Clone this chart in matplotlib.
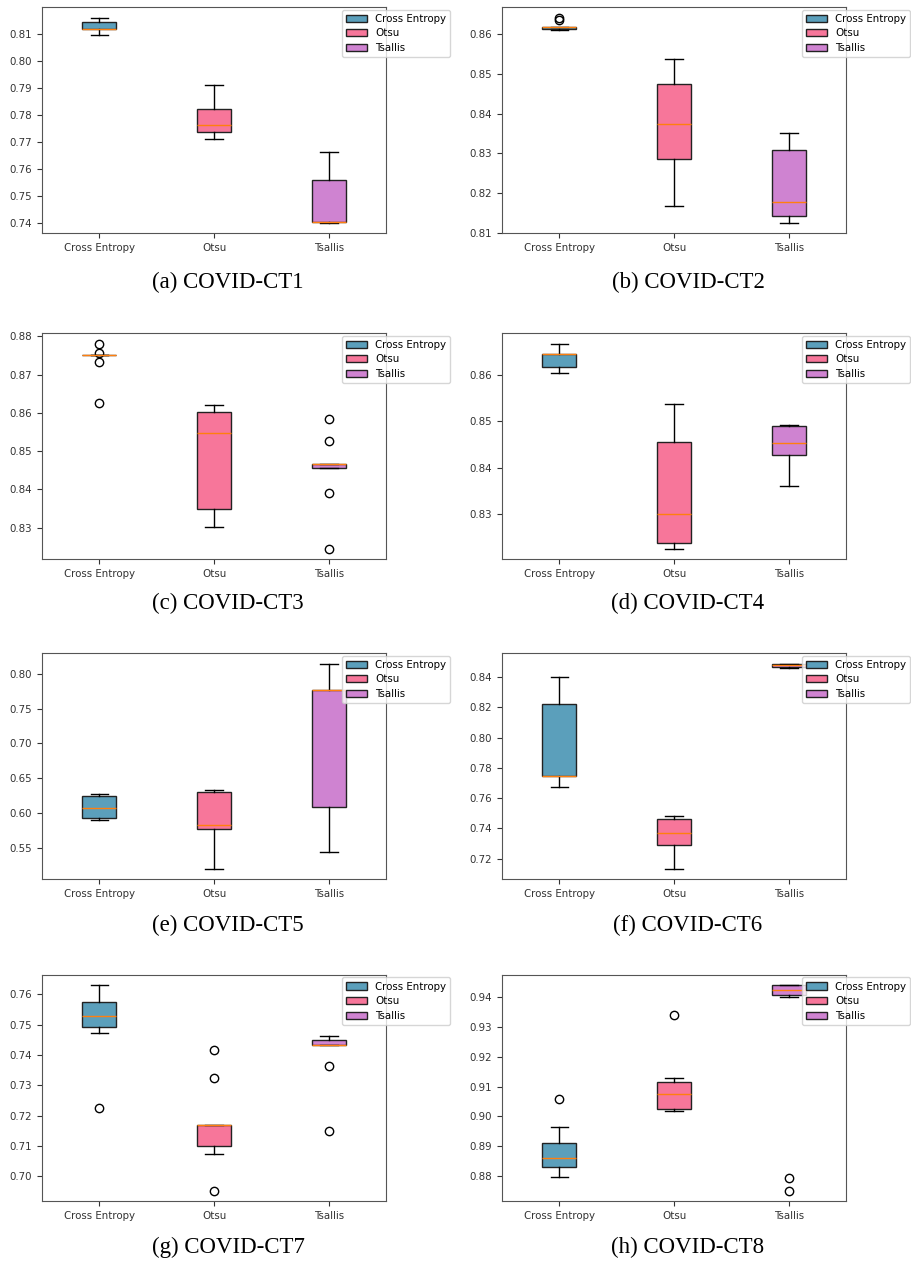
import matplotlib
matplotlib.use("Agg")
import matplotlib.pyplot as plt

# --- Daten ---
methods = ["Cross Entropy", "Otsu", "Tsallis"]
datasets = ["COVID-CT1", "COVID-CT2", "COVID-CT3", "COVID-CT4",
            "COVID-CT5", "COVID-CT6", "COVID-CT7", "COVID-CT8"]
letters = ["a", "b", "c", "d", "e", "f", "g", "h"]

# je Datensatz: [Cross Entropy, Otsu, Tsallis]
whislo = [
    [0.8096, 0.7709, 0.7400],
    [0.8611, 0.8169, 0.8125],
    [0.8750, 0.8302, 0.8456],
    [0.8605, 0.8224, 0.8360],
    [0.5899, 0.5192, 0.5433],
    [0.7675, 0.7132, 0.8464],
    [0.7473, 0.7073, 0.7434],
    [0.8796, 0.9018, 0.9401],
]
q1 = [
    [0.8118, 0.7736, 0.7402],
    [0.8613, 0.8285, 0.8143],
    [0.8750, 0.8348, 0.8456],
    [0.8617, 0.8236, 0.8427],
    [0.5928, 0.5764, 0.6082],
    [0.7748, 0.7288, 0.8470],
    [0.7493, 0.7099, 0.7434],
    [0.8830, 0.9025, 0.9406],
]
med = [
    [0.8119, 0.7763, 0.7405],
    [0.8618, 0.8373, 0.8177],
    [0.8750, 0.8548, 0.8465],
    [0.8645, 0.8300, 0.8453],
    [0.6072, 0.5827, 0.7764],
    [0.7748, 0.7372, 0.8478],
    [0.7530, 0.7168, 0.7434],
    [0.8861, 0.9076, 0.9422],
]
q3 = [
    [0.8143, 0.7821, 0.7561],
    [0.8618, 0.8473, 0.8308],
    [0.8750, 0.8602, 0.8467],
    [0.8645, 0.8455, 0.8490],
    [0.6240, 0.6298, 0.7764],
    [0.8223, 0.7465, 0.8484],
    [0.7575, 0.7168, 0.7450],
    [0.8910, 0.9115, 0.9439],
]
whishi = [
    [0.8160, 0.7912, 0.7662],
    [0.8618, 0.8538, 0.8350],
    [0.8750, 0.8621, 0.8467],
    [0.8668, 0.8538, 0.8493],
    [0.6269, 0.6327, 0.8149],
    [0.8400, 0.7481, 0.8490],
    [0.7630, 0.7168, 0.7463],
    [0.8963, 0.9129, 0.9439],
]
fliers = [
    [[], [], []],
    [[0.8636, 0.8641], [], []],
    [[0.8781, 0.8757, 0.8732, 0.8626], [], [0.8583, 0.8526, 0.8390, 0.8244]],
    [[], [], []],
    [[], [], []],
    [[], [], []],
    [[0.7225], [0.7418, 0.7325, 0.6953], [0.7363, 0.7150]],
    [[0.9059], [0.9341], [0.8792, 0.8751]],
]

colors = ["#5b9fbb", "#f7769a", "#cf83d1"]

fig = plt.figure(figsize=(9.12, 12.68), dpi=100)
W, H = 912, 1268

col_left = [41.7, 501.7]
ax_w = 344.7
row_top = [7.3, 333.3, 653.3, 975.0]
ax_h = 226.0
cap_y = [282, 603, 925, 1247]
cap_x = [228, 688]

for i, name in enumerate(datasets):
    r, c = divmod(i, 2)
    ax = fig.add_axes([col_left[c] / W, 1 - (row_top[r] + ax_h) / H, ax_w / W, ax_h / H])
    stats = []
    for j, m in enumerate(methods):
        stats.append(dict(label=m, whislo=whislo[i][j], q1=q1[i][j], med=med[i][j],
                          q3=q3[i][j], whishi=whishi[i][j], fliers=fliers[i][j]))
    bp = ax.bxp(stats, patch_artist=True, widths=0.3)
    for box, col in zip(bp["boxes"], colors):
        box.set_facecolor(col)
        box.set_edgecolor("#222222")
    ax.tick_params(labelsize=7.4, colors="#333333", length=3.5)
    for s in ax.spines.values():
        s.set_color("#555555")
    ax.legend(bp["boxes"], methods, loc="upper right", bbox_to_anchor=(1.2, 1.012),
              fontsize=7.4, handlelength=2.0, borderpad=0.4, labelspacing=0.45)
    fig.text(cap_x[c] / W, 1 - cap_y[r] / H, f"({letters[i]}) {name}",
             ha="center", va="center", family="Liberation Serif", fontsize=16.5)

fig.savefig("out.png", dpi=100)
